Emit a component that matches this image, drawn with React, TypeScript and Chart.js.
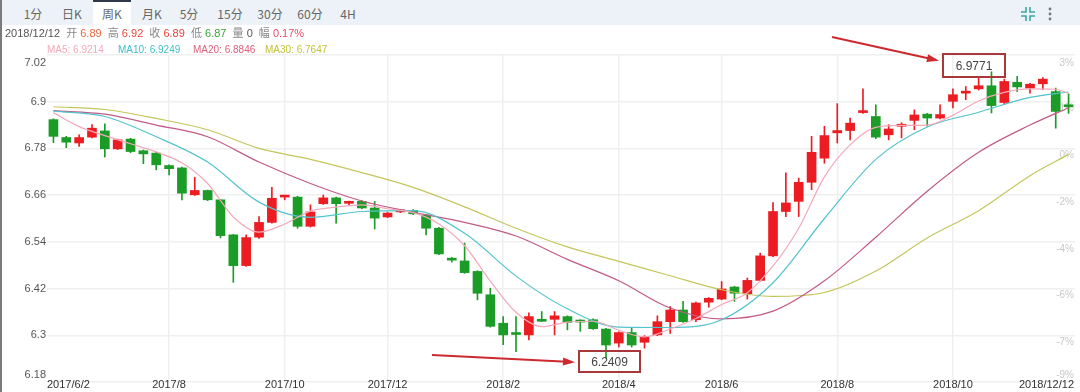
import React, { useEffect, useRef } from "react";
import { Chart, registerables } from "chart.js";
Chart.register(...registerables);

// ---------- data ----------
const categories: string[] = [];
for (let i = 0; i < 80; i++) {
  const d = new Date(2017, 5, 2 + 7 * i);
  categories.push(`${d.getFullYear()}/${d.getMonth() + 1}/${d.getDate()}`);
}
categories[79] = "2018/12/12";

const opens = [
  6.854, 6.808, 6.794, 6.809, 6.825, 6.779, 6.804, 6.774, 6.768, 6.736,
  6.73, 6.661, 6.672, 6.648, 6.558, 6.479, 6.552, 6.59, 6.655, 6.655,
  6.58, 6.638, 6.653, 6.639, 6.644, 6.627, 6.604, 6.617, 6.621, 6.609,
  6.575, 6.495, 6.491, 6.464, 6.404, 6.331, 6.304, 6.301, 6.338, 6.341,
  6.348, 6.336, 6.34, 6.316, 6.28, 6.307, 6.282, 6.301, 6.335, 6.365,
  6.34, 6.385, 6.393, 6.424, 6.407, 6.441, 6.504, 6.618, 6.644, 6.693,
  6.755, 6.82, 6.826, 6.872, 6.862, 6.815, 6.837, 6.852, 6.868, 6.858,
  6.901, 6.922, 6.933, 6.941, 6.898, 6.95, 6.935, 6.946, 6.926, 6.89,
];
const highs = [
  6.856, 6.811, 6.815, 6.841, 6.843, 6.804, 6.806, 6.776, 6.77, 6.738,
  6.732, 6.706, 6.673, 6.649, 6.559, 6.558, 6.605, 6.68, 6.66, 6.657,
  6.635, 6.66, 6.655, 6.645, 6.646, 6.644, 6.616, 6.623, 6.623, 6.611,
  6.577, 6.5, 6.537, 6.466, 6.421, 6.348, 6.348, 6.358, 6.361, 6.361,
  6.35, 6.34, 6.342, 6.318, 6.309, 6.318, 6.299, 6.35, 6.374, 6.387,
  6.385, 6.397, 6.438, 6.426, 6.447, 6.511, 6.641, 6.717, 6.704, 6.811,
  6.837, 6.895, 6.858, 6.933, 6.892, 6.841, 6.846, 6.879, 6.87, 6.892,
  6.933, 6.939, 6.961, 6.9771, 6.958, 6.965, 6.947, 6.962, 6.935, 6.92,
];
const lows = [
  6.795, 6.782, 6.785, 6.807, 6.758, 6.777, 6.769, 6.741, 6.725, 6.712,
  6.648, 6.659, 6.646, 6.55, 6.436, 6.477, 6.549, 6.588, 6.648, 6.575,
  6.578, 6.636, 6.588, 6.635, 6.625, 6.573, 6.602, 6.615, 6.61, 6.558,
  6.507, 6.488, 6.459, 6.391, 6.321, 6.276, 6.258, 6.288, 6.335, 6.301,
  6.314, 6.31, 6.315, 6.2409, 6.27, 6.27, 6.267, 6.299, 6.305, 6.333,
  6.335, 6.372, 6.391, 6.387, 6.393, 6.439, 6.502, 6.605, 6.605, 6.674,
  6.742, 6.794, 6.802, 6.87, 6.805, 6.802, 6.807, 6.828, 6.837, 6.856,
  6.884, 6.905, 6.93, 6.871, 6.895, 6.926, 6.922, 6.931, 6.832, 6.87,
];
const closes = [
  6.811, 6.796, 6.808, 6.832, 6.779, 6.802, 6.772, 6.766, 6.738, 6.728,
  6.665, 6.672, 6.648, 6.556, 6.479, 6.551, 6.59, 6.652, 6.657, 6.58,
  6.617, 6.653, 6.638, 6.641, 6.627, 6.601, 6.614, 6.621, 6.612, 6.575,
  6.509, 6.493, 6.461, 6.408, 6.323, 6.301, 6.302, 6.348, 6.336, 6.35,
  6.333, 6.334, 6.317, 6.275, 6.307, 6.275, 6.297, 6.335, 6.365, 6.335,
  6.383, 6.395, 6.419, 6.408, 6.441, 6.504, 6.618, 6.64, 6.693, 6.77,
  6.813, 6.826, 6.845, 6.875, 6.809, 6.83, 6.839, 6.866, 6.858, 6.867,
  6.918, 6.926, 6.941, 6.89, 6.952, 6.938, 6.945, 6.958, 6.875, 6.887,
];

const ma5Idx = [0, 2, 4, 6, 8, 10, 12, 14, 16, 18, 20, 22, 24, 26, 28, 30, 32, 34, 36, 38, 40,
  42, 44, 46, 48, 50, 52, 54, 56, 58, 60, 62, 64, 66, 68, 70, 72, 74, 76, 78, 79];
const ma5Val = [6.872, 6.836, 6.813, 6.792, 6.771, 6.743, 6.69, 6.604, 6.565, 6.586, 6.619,
  6.629, 6.635, 6.625, 6.615, 6.586, 6.53, 6.439, 6.359, 6.322, 6.334, 6.336, 6.313, 6.296,
  6.316, 6.343, 6.379, 6.409, 6.478, 6.575, 6.707, 6.789, 6.834, 6.839, 6.84, 6.865, 6.902,
  6.924, 6.933, 6.932, 6.9214];
const maIdx = [0, 4, 8, 12, 16, 20, 24, 28, 32, 36, 40, 44, 48, 52, 56, 60, 64, 68, 72, 76, 79];
const ma10Val = [6.876, 6.862, 6.81, 6.745, 6.642, 6.603, 6.618, 6.62, 6.562, 6.452, 6.368,
  6.321, 6.32, 6.34, 6.435, 6.6, 6.752, 6.835, 6.873, 6.911, 6.9249];
const ma20Val = [6.877, 6.868, 6.84, 6.81, 6.745, 6.69, 6.645, 6.616, 6.59, 6.555, 6.495,
  6.44, 6.37, 6.342, 6.362, 6.44, 6.552, 6.67, 6.77, 6.84, 6.8846];
const ma30Val = [6.887, 6.88, 6.857, 6.828, 6.78, 6.752, 6.718, 6.68, 6.63, 6.575, 6.527,
  6.49, 6.453, 6.417, 6.4, 6.41, 6.465, 6.55, 6.62, 6.71, 6.7647];

const yTicks = [6.18, 6.3, 6.42, 6.54, 6.66, 6.78, 6.9, 7.02];
const yTickText = ["6.18", "6.3", "6.42", "6.54", "6.66", "6.78", "6.9", "7.02"];
const rightTickText = ["-9%", "-7%", "-6%", "-4%", "-2%", "0%", "1%", "3%"];
const xTickIdx = [0, 9, 18, 26, 35, 44, 52, 61, 70, 79];
const xTickText = ["2017/6/2", "2017/8", "2017/10", "2017/12", "2018/2", "2018/4", "2018/6",
  "2018/8", "2018/10", "2018/12/12"];
const tabs = ["1分", "日K", "周K", "月K", "5分", "15分", "30分", "60分", "4H"];
const tabX = [33, 72, 112, 152, 189, 230, 270, 310, 348];

const RED = "#ec1d22";
const GREEN = "#1a9c27";
const C_MA5 = "#f3a9ba";
const C_MA10 = "#54c3cc";
const C_MA20 = "#c25a86";
const C_MA30 = "#c4c65c";

function pad(idx: number[], vals: number[]) {
  const arr: (number | null)[] = categories.map(() => null);
  idx.forEach((k, i) => (arr[k] = vals[i]));
  return arr;
}

const FONT = '"Liberation Sans", Arial, "Noto Sans CJK SC", sans-serif';

const overlay = {
  id: "overlay",
  beforeDatasetsDraw(chart: any) {
    const { ctx, chartArea, scales } = chart;
    const y = scales.y;
    ctx.save();
    ctx.font = `10px ${FONT}`;
    ctx.fillStyle = "#c8c8c8";
    ctx.textAlign = "right";
    ctx.textBaseline = "middle";
    yTicks.forEach((v, i) => {
      const py = y.getPixelForValue(v);
      const ty = Math.min(Math.max(py + 7, chartArea.top + 8), chartArea.bottom - 7);
      ctx.fillText(rightTickText[i], 1074, ty);
    });
    ctx.restore();
  },
  afterDraw(chart: any) {
    const { ctx, chartArea, scales } = chart;
    const y = scales.y;
    const x = scales.x;
    ctx.save();
    ctx.font = `11px ${FONT}`;
    ctx.fillStyle = "#555";
    ctx.textAlign = "right";
    ctx.textBaseline = "middle";
    yTicks.forEach((v, i) => {
      const py = y.getPixelForValue(v);
      const ty = Math.min(Math.max(py, chartArea.top + 8), chartArea.bottom - 7);
      ctx.fillText(yTickText[i], 46, ty);
    });
    ctx.fillStyle = "#333";
    xTickIdx.forEach((k, i) => {
      const px = x.getPixelForValue(k);
      if (i === 0) {
        ctx.textAlign = "left";
        ctx.fillText(xTickText[i], chartArea.left, 385);
      } else if (i === xTickIdx.length - 1) {
        ctx.textAlign = "right";
        ctx.fillText(xTickText[i], chartArea.right - 1, 385);
      } else {
        ctx.textAlign = "center";
        ctx.fillText(xTickText[i], px, 385);
      }
    });
    const arrow = (x1: number, y1: number, x2: number, y2: number) => {
      ctx.strokeStyle = "#cc2a2e";
      ctx.fillStyle = "#cc2a2e";
      ctx.lineWidth = 2;
      ctx.beginPath();
      ctx.moveTo(x1, y1);
      ctx.lineTo(x2, y2);
      ctx.stroke();
      const a = Math.atan2(y2 - y1, x2 - x1);
      ctx.beginPath();
      ctx.moveTo(x2 + 3, y2 + 3 * Math.tan(a));
      ctx.lineTo(x2 - 9 * Math.cos(a) + 4 * Math.sin(a), y2 - 9 * Math.sin(a) - 4 * Math.cos(a));
      ctx.lineTo(x2 - 9 * Math.cos(a) - 4 * Math.sin(a), y2 - 9 * Math.sin(a) + 4 * Math.cos(a));
      ctx.closePath();
      ctx.fill();
    };
    arrow(832, 37, 936, 60);
    arrow(432, 355, 572, 362);
    const box = (bx: number, by: number, bw: number, bh: number, t: string) => {
      ctx.strokeStyle = "#a8383a";
      ctx.lineWidth = 2;
      ctx.strokeRect(bx, by, bw, bh);
      ctx.fillStyle = "#444";
      ctx.font = `12px ${FONT}`;
      ctx.textAlign = "center";
      ctx.textBaseline = "middle";
      ctx.fillText(t, bx + bw / 2, by + bh / 2 + 1);
    };
    box(943, 54, 62, 23, "6.9771");
    box(579, 351, 61, 21, "6.2409");
    ctx.restore();
  },
};

export default function App() {
  const ref = useRef<HTMLCanvasElement>(null);
  useEffect(() => {
    document.body.style.margin = "0";
    const colors = opens.map((o, i) => (closes[i] >= o ? RED : GREEN));
    const line = (label: string, data: (number | null)[], color: string) =>
      ({
        type: "line",
        label,
        data,
        borderColor: color,
        borderWidth: 1.2,
        pointRadius: 0,
        spanGaps: true,
        cubicInterpolationMode: "monotone",
        order: 0,
      } as any);
    const chart = new Chart(ref.current as HTMLCanvasElement, {
      type: "bar",
      data: {
        labels: categories,
        datasets: [
          line("MA5", pad(ma5Idx, ma5Val), C_MA5),
          line("MA10", pad(maIdx, ma10Val), C_MA10),
          line("MA20", pad(maIdx, ma20Val), C_MA20),
          line("MA30", pad(maIdx, ma30Val), C_MA30),
          {
            type: "bar",
            label: "body",
            data: opens.map((o, i) => [o, closes[i]]),
            backgroundColor: colors,
            barThickness: 9,
            minBarLength: 2,
            grouped: false,
            order: 1,
          } as any,
          {
            type: "bar",
            label: "wick",
            data: lows.map((l, i) => [l, highs[i]]),
            backgroundColor: colors,
            barThickness: 1,
            grouped: false,
            order: 2,
          } as any,
        ],
      },
      options: {
        responsive: false,
        devicePixelRatio: 1,
        animation: false,
        layout: { padding: { left: 47, right: 5, top: 55, bottom: 10 } },
        plugins: { legend: { display: false }, tooltip: { enabled: false } },
        scales: {
          x: {
            type: "category",
            offset: true,
            grid: {
              offset: false,
              drawTicks: false,
              color: (c: any) =>
                xTickIdx.indexOf(c.index) > 0 && xTickIdx.indexOf(c.index) < xTickIdx.length - 1
                  ? "#efefef"
                  : "rgba(0,0,0,0)",
              lineWidth: 1.5,
            },
            ticks: { display: false },
            border: { display: false },
          },
          y: {
            min: 6.18,
            max: 7.02,
            afterBuildTicks: (s: any) => {
              s.ticks = yTicks.map((v) => ({ value: v }));
            },
            grid: { color: "#efefef", drawTicks: false, lineWidth: 1.5 },
            ticks: { display: false },
            border: { display: false },
          },
        },
      } as any,
      plugins: [overlay],
    });
    return () => chart.destroy();
  }, []);

  const lbl = { color: "#888" };
  return (
    <div
      style={{
        position: "relative",
        width: 1080,
        height: 392,
        overflow: "hidden",
        background: "#fff",
        fontFamily: FONT,
      }}
    >
      <canvas ref={ref} width={1080} height={392} style={{ position: "absolute", left: 0, top: 0 }} />
      <div style={{ position: "absolute", left: 0, top: 0, width: 1080, height: 25, background: "#edf2f8" }} />
      <div
        style={{
          position: "absolute",
          left: 93,
          top: 0,
          width: 38,
          height: 25,
          background: "#fff",
          borderTop: "2px solid #2f3a4a",
          boxSizing: "border-box",
        }}
      />
      {tabs.map((t, i) => (
        <div
          key={t}
          style={{
            position: "absolute",
            left: tabX[i] - 20,
            width: 40,
            top: 6,
            height: 16,
            lineHeight: "16px",
            textAlign: "center",
            fontSize: 12,
            color: "#666",
            fontFamily: '"Noto Sans CJK SC", sans-serif',
          }}
        >
          {t}
        </div>
      ))}
      <svg style={{ position: "absolute", left: 1020, top: 6 }} width="16" height="16" viewBox="0 0 16 16">
        <g stroke="#3aa7a2" strokeWidth="1.6" fill="none">
          <path d="M6 1 V6 H1" />
          <path d="M10 1 V6 H15" />
          <path d="M6 15 V10 H1" />
          <path d="M10 15 V10 H15" />
        </g>
      </svg>
      <svg style={{ position: "absolute", left: 1046, top: 6 }} width="8" height="16" viewBox="0 0 8 16">
        <g fill="#777">
          <circle cx="4" cy="3" r="1.4" />
          <circle cx="4" cy="8" r="1.4" />
          <circle cx="4" cy="13" r="1.4" />
        </g>
      </svg>
      <div
        style={{
          position: "absolute",
          left: 5,
          top: 26,
          height: 14,
          lineHeight: "14px",
          fontSize: 11,
          whiteSpace: "pre",
          color: "#555",
          fontFamily: '"Liberation Sans", "Noto Sans CJK SC", sans-serif',
        }}
      >
        <span>2018/12/12 </span>
        <span style={lbl}> 开 </span>
        <span style={{ color: "#e8683e" }}>6.89 </span>
        <span style={lbl}> 高 </span>
        <span style={{ color: "#e8443c" }}>6.92 </span>
        <span style={lbl}> 收 </span>
        <span style={{ color: "#e8443c" }}>6.89 </span>
        <span style={lbl}> 低 </span>
        <span style={{ color: "#3aa53a" }}>6.87 </span>
        <span style={lbl}> 量 </span>
        <span style={{ color: "#555" }}>0 </span>
        <span style={lbl}> 幅 </span>
        <span style={{ color: "#e8506a" }}>0.17%</span>
      </div>
      {[
        { t: "MA5: 6.9214", x: 47, c: C_MA5 },
        { t: "MA10: 6.9249", x: 118, c: "#3fbfca" },
        { t: "MA20: 6.8846", x: 193, c: "#e0607c" },
        { t: "MA30: 6.7647", x: 265, c: "#c2c23a" },
      ].map((m) => (
        <div
          key={m.t}
          style={{
            position: "absolute",
            left: m.x,
            top: 43,
            height: 14,
            lineHeight: "14px",
            fontSize: 10,
            color: m.c,
            whiteSpace: "pre",
          }}
        >
          {m.t}
        </div>
      ))}
      <div style={{ position: "absolute", left: 0, top: 0, width: 2, height: 392, background: "#7a7a7a" }} />
    </div>
  );
}
